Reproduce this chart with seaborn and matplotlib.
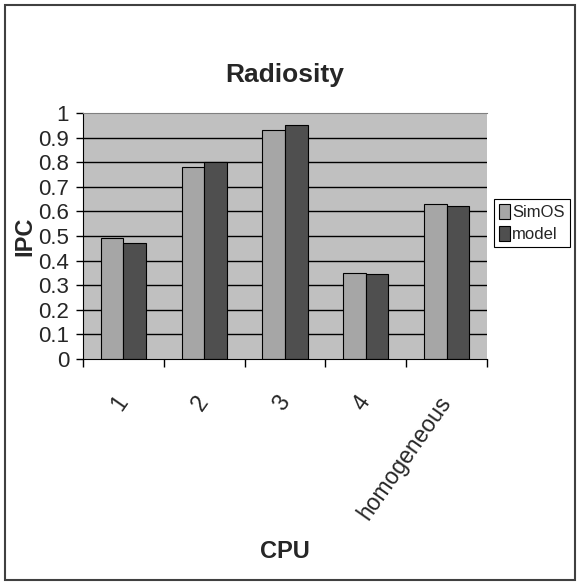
import matplotlib
matplotlib.use("Agg")
import matplotlib.pyplot as plt
import seaborn as sns
import pandas as pd
from matplotlib.patches import Rectangle

categories = ["1", "2", "3", "4", "homogeneous"]
simos = [0.49, 0.78, 0.93, 0.35, 0.63]
model = [0.47, 0.80, 0.95, 0.345, 0.62]
series_names = ["SimOS", "model"]
yticks = [0, 0.1, 0.2, 0.3, 0.4, 0.5, 0.6, 0.7, 0.8, 0.9, 1]
ytick_labels = ["0", "0.1", "0.2", "0.3", "0.4", "0.5", "0.6", "0.7", "0.8", "0.9", "1"]

sns.set_style("white")
plt.rcParams["font.family"] = ["Liberation Sans", "DejaVu Sans"]

df = pd.DataFrame({
    "CPU": categories * 2,
    "IPC": simos + model,
    "series": [series_names[0]] * len(categories) + [series_names[1]] * len(categories),
})

fig = plt.figure(figsize=(5.78, 5.83), dpi=100)
ax = fig.add_axes([83 / 578, 1 - 359 / 583, (487 - 83) / 578, (359 - 113) / 583])

sns.barplot(data=df, x="CPU", y="IPC", hue="series", palette=["#a6a6a6", "#4f4f4f"],
            width=0.56, edgecolor="black", linewidth=0.8, saturation=1, ax=ax, legend=True)

ax.set_facecolor("#c0c0c0")
ax.set_ylim(0, 1)
ax.set_xlim(-0.5, len(categories) - 0.5)
ax.set_yticks(yticks)
ax.set_yticklabels(ytick_labels, fontsize=16)
for y in yticks[1:-1]:
    ax.axhline(y, color="black", linewidth=1.0, zorder=0.5)
ax.set_axisbelow(True)

ax.spines["right"].set_visible(False)
ax.spines["top"].set_color("#808080")
ax.spines["left"].set_color("black")
ax.spines["bottom"].set_color("black")
ax.tick_params(axis="y", direction="out", length=5, width=1, color="black", left=True, pad=5)

ax.set_xticks(range(len(categories)))
ax.set_xticks([i - 0.5 for i in range(len(categories) + 1)], minor=True)
ax.tick_params(axis="x", which="minor", direction="out", length=6, width=1, color="black", bottom=True)
ax.tick_params(axis="x", which="major", length=0, pad=28)
ax.set_xticklabels(categories, rotation=55, ha="right", va="center", rotation_mode="anchor", fontsize=16.5)

ax.set_xlabel("CPU", fontsize=17, fontweight="bold", labelpad=12)
ax.set_ylabel("IPC", fontsize=17, fontweight="bold", labelpad=1)
ax.set_title("Radiosity", fontsize=19, fontweight="bold", pad=22)

leg = ax.legend(loc="upper left", bbox_to_anchor=(494 / 578, 1 - 199 / 583), bbox_transform=fig.transFigure,
                fontsize=12, frameon=True, fancybox=False, edgecolor="black", framealpha=1,
                handlelength=0.65, handleheight=1.0, handletextpad=0.15, borderpad=0.3,
                labelspacing=0.35, borderaxespad=0)
leg.get_frame().set_linewidth(0.8)
leg.set_title(None)

fig.patches.append(Rectangle((5 / 578, 3 / 583), 570 / 578, 575 / 583, transform=fig.transFigure,
                             fill=False, edgecolor="#404040", linewidth=1.5))

fig.savefig("out.png", dpi=100)
